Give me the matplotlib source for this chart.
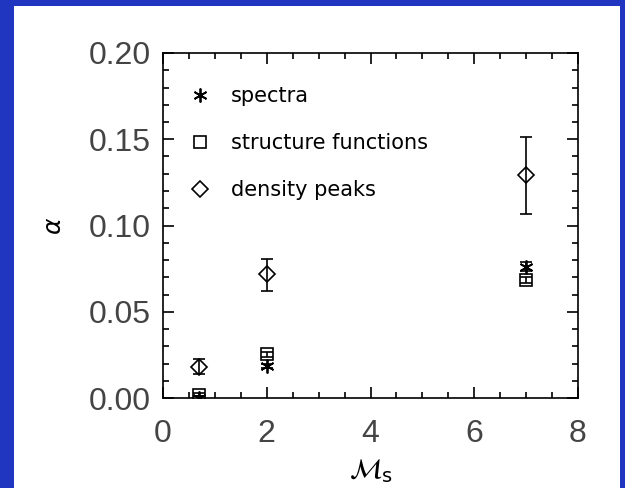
import matplotlib.pyplot as plt
from matplotlib.patches import Rectangle

# Mach numbers and fitted alpha values
mach = [0.7, 2.0, 7.0]

spectra = [0.000, 0.0186, 0.0761]
spectra_err = [0.001, 0.001, 0.0025]

struct = [0.002, 0.0253, 0.0684]
struct_err = [0.001, 0.0015, 0.0020]

peaks = [0.0182, 0.0717, 0.129]
peaks_lo = [0.0045, 0.0095, 0.0223]
peaks_hi = [0.0044, 0.0089, 0.0225]

xticks = [0, 2, 4, 6, 8]
yticks = [0.00, 0.05, 0.10, 0.15, 0.20]

fig = plt.figure(figsize=(6.25, 4.88), dpi=100)
fig.patch.set_facecolor('#2035C0')
fig.patches.append(Rectangle((14 / 625, 0), 606 / 625, 482 / 488,
                             transform=fig.transFigure, facecolor='white',
                             edgecolor='none', zorder=-10))

ax = fig.add_axes([163 / 625, 90 / 488, 415 / 625, 345 / 488])
ax.set_facecolor('white')

ax.errorbar(mach, spectra, yerr=spectra_err, fmt='none', ecolor='black',
            elinewidth=1.2, capsize=4, capthick=1.2)
ax.plot(mach, spectra, linestyle='none', marker=(6, 2, 0), markersize=10,
        markeredgewidth=1.3, color='black', label='spectra')

ax.errorbar(mach, struct, yerr=struct_err, fmt='none', ecolor='black',
            elinewidth=1.2, capsize=4, capthick=1.2)
ax.plot(mach, struct, linestyle='none', marker='s', markersize=9,
        markerfacecolor='none', markeredgewidth=1.2, color='black',
        label='structure functions')

ax.errorbar(mach, peaks, yerr=[peaks_lo, peaks_hi], fmt='none', ecolor='black',
            elinewidth=1.2, capsize=4, capthick=1.2)
ax.plot(mach, peaks, linestyle='none', marker='D', markersize=8,
        markerfacecolor='none', markeredgewidth=1.2, color='black',
        label='density peaks')

ax.set_xlim(0, 8)
ax.set_ylim(0, 0.2)
ax.set_xticks(xticks)
ax.set_yticks(yticks)
ax.set_xticklabels([str(t) for t in xticks])
ax.set_yticklabels(['%.2f' % t for t in yticks])
ax.set_xticks([x * 0.5 for x in range(17)], minor=True)
ax.set_yticks([y * 0.01 for y in range(21)], minor=True)

ax.tick_params(which='both', direction='in', top=True, right=True,
               colors='black', labelcolor='#444444', width=1.2)
ax.tick_params(which='major', length=8, labelsize=23)
ax.tick_params(axis='x', which='major', pad=15)
ax.tick_params(axis='y', which='major', pad=9)
ax.tick_params(which='minor', length=4)
for s in ax.spines.values():
    s.set_linewidth(1.2)

for lab in ax.get_xticklabels() + ax.get_yticklabels():
    lab.set_fontfamily('Liberation Sans')

ax.set_xlabel(r'$\mathcal{M}_{\rm s}$', fontsize=20, labelpad=6)
ax.set_ylabel(r'$\alpha$', fontsize=18, labelpad=16)

ax.legend(loc='upper left', frameon=False, fontsize=15, handlelength=1.0,
          handletextpad=0.95, labelspacing=1.3, borderaxespad=0.6,
          bbox_to_anchor=(0.015, 0.965))

fig.savefig('out.png', dpi=100, facecolor=fig.get_facecolor())
